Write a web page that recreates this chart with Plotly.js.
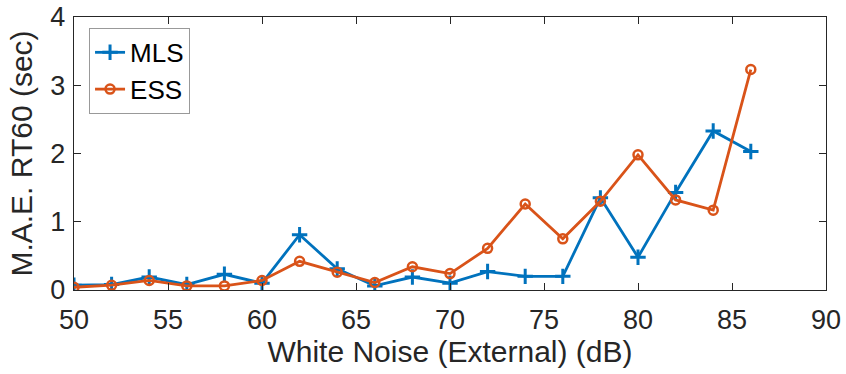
<!DOCTYPE html>
<html><head><meta charset="utf-8">
<script src="https://cdn.plot.ly/plotly-3.0.1.min.js"></script>
<style>html,body{margin:0;padding:0;background:#fff;}#chart{width:846px;height:374px;}</style>
</head><body><div id="chart"></div>
<script>
var noiseLevels = [50,52,54,56,58,60,62,64,66,68,70,72,74,76,78,80,82,84,86];
var mlsValues = [0.07,0.08,0.19,0.08,0.23,0.10,0.81,0.31,0.06,0.19,0.10,0.27,0.20,0.20,1.35,0.48,1.43,2.33,2.03];
var essValues = [0.04,0.07,0.14,0.06,0.06,0.14,0.42,0.26,0.11,0.34,0.24,0.61,1.26,0.75,1.30,1.98,1.32,1.17,3.23];
var seriesNames = ['MLS','ESS'];
var xTicks = [50,55,60,65,70,75,80,85,90];
var yTicks = [0,1,2,3,4];

var traces = [
  {x: noiseLevels, y: mlsValues, name: seriesNames[0], type:'scatter', mode:'lines+markers',
   line:{color:'#0072BD', width:2.8},
   marker:{symbol:'cross-thin-open', size:11, color:'#0072BD', line:{color:'#0072BD', width:3}}},
  {x: noiseLevels, y: essValues, name: seriesNames[1], type:'scatter', mode:'lines+markers',
   line:{color:'#D95319', width:2.8},
   marker:{symbol:'circle-open', size:9, color:'#D95319', line:{color:'#D95319', width:2.5}}}
];
var tickFont = {family:'Liberation Sans, Arial, sans-serif', size:27, color:'#262626'};
var titleFont = {family:'Liberation Sans, Arial, sans-serif', size:30, color:'#262626'};
var layout = {
  width:846, height:374,
  margin:{l:74, r:20, t:17, b:84},
  paper_bgcolor:'#fff', plot_bgcolor:'#fff',
  showlegend:true,
  legend:{x:0.02, y:0.96, xanchor:'left', yanchor:'top', bgcolor:'#fff', bordercolor:'#999', borderwidth:1,
          font:{family:'Liberation Sans, Arial, sans-serif', size:26, color:'#000'}, tracegroupgap:0, itemwidth:30},
  xaxis:{range:[50,90], tickvals:xTicks, ticktext:xTicks.map(String), ticks:'inside', ticklen:7, tickcolor:'#262626',
         showline:true, linecolor:'#262626', linewidth:1.3, mirror:'ticks', showgrid:false, zeroline:false,
         ticklabelstandoff:5,
         tickfont:tickFont, title:{text:'White Noise (External) (dB)', font:titleFont, standoff:6}},
  yaxis:{range:[0,4], tickvals:yTicks, ticktext:yTicks.map(String), ticks:'inside', ticklen:7, tickcolor:'#262626',
         showline:true, linecolor:'#262626', linewidth:1.3, mirror:'ticks', showgrid:false, zeroline:false,
         ticklabelstandoff:2,
         tickfont:tickFont, title:{text:'M.A.E. RT60 (sec)', font:titleFont, standoff:8}}
};
Plotly.newPlot('chart', traces, layout, {displayModeBar:false, staticPlot:true});
</script></body></html>
